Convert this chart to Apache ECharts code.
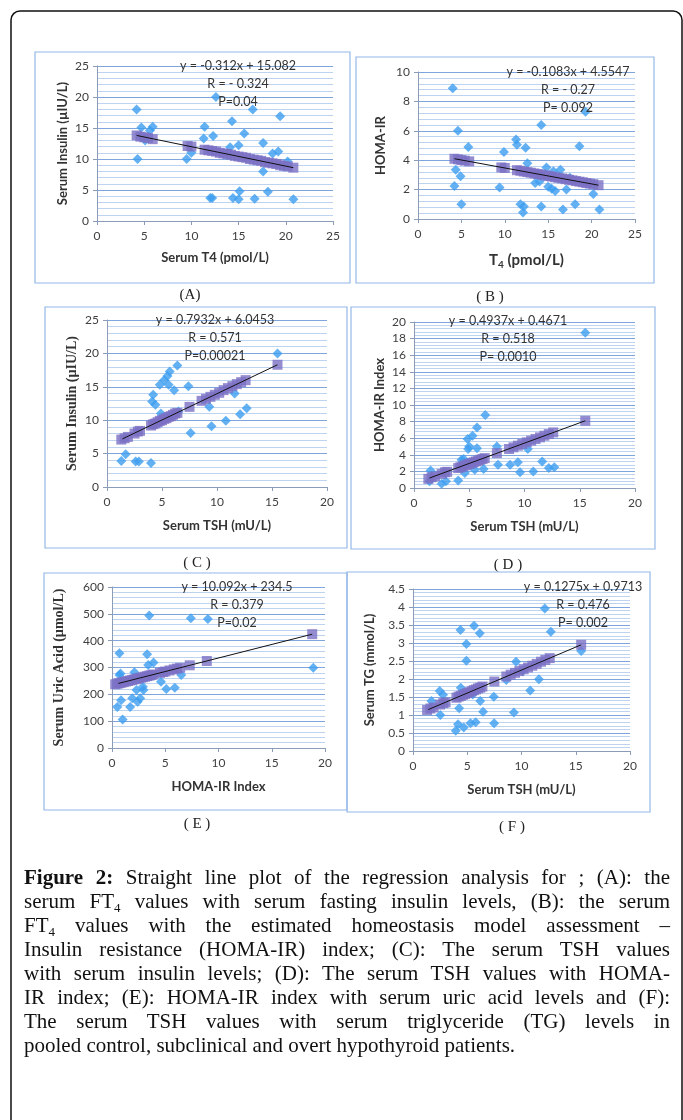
<!DOCTYPE html>
<html>
<head>
<meta charset="utf-8">
<script src="https://cdn.jsdelivr.net/npm/echarts@6/dist/echarts.min.js"></script>
<style>
  body { margin: 0; background: #fff; }
  #wrap { position: relative; width: 683px; height: 1120px; overflow: hidden; }
  #main { position: absolute; left: 0; top: 0; width: 683px; height: 1120px; }
  #caption {
    position: absolute; left: 24px; top: 865px; width: 646px;
    font-family: "Liberation Serif", serif; font-size: 21px; line-height: 24px; color: #111;
  }
  #caption div { text-align: justify; text-align-last: justify; height: 24px; }
  #caption div.last { text-align-last: left; }
  #caption sub { font-size: 13px; line-height: 0; vertical-align: -4px; }
</style>
</head>
<body>
<div id="wrap">
  <div id="main"></div>
  <div id="caption">
    <div><b>Figure 2:</b> Straight line plot of the regression analysis for ; (A): the</div>
    <div>serum FT<sub>4</sub> values with serum fasting insulin levels, (B): the serum</div>
    <div>FT<sub>4</sub> values with the estimated homeostasis model assessment –</div>
    <div>Insulin resistance (HOMA-IR) index; (C): The serum TSH values</div>
    <div>with serum insulin levels; (D): The serum TSH values with HOMA-</div>
    <div>IR index; (E): HOMA-IR index with serum uric acid levels and (F):</div>
    <div>The serum TSH values with serum triglyceride (TG) levels in</div>
    <div class="last">pooled control, subclinical and overt hypothyroid patients.</div>
  </div>
</div>
<script>
// ---- (A) serum T4 vs insulin
const t4InsulinPoints = [[4.2,18],[4.3,10],[4.7,15.1],[5.1,13],[5.6,14.6],[5.9,15.2],[9.5,10],[10,11],
  [11.3,13.3],[11.4,15.2],[12,3.7],[12.2,3.7],[12.3,13.7],[12.6,20],[14.1,11.9],[14.3,16.1],[14.4,3.7],
  [15,12.2],[15,3.5],[15.1,4.8],[15.6,14.1],[16.5,18],[16.7,3.6],[17.6,12.6],[17.6,8],[18.1,4.7],
  [18.6,10.9],[19.2,11.2],[19.4,16.9],[20.2,9.6],[20.8,3.5]];
const t4FitX = [4.2,4.6,5,5.4,5.9,9.6,10,11.4,11.8,12.2,12.6,13,13.4,13.8,14.2,14.6,15,15.4,15.8,
  16.2,16.6,17,17.4,17.8,18.2,18.6,19,19.4,19.8,20.2,20.8];
const insulinFitA = [13.8,13.6,13.5,13.4,13.2,12.1,12.0,11.5,11.4,11.3,11.2,11.0,10.9,10.8,10.7,10.5,
  10.4,10.3,10.2,10.0,9.9,9.8,9.7,9.5,9.4,9.3,9.2,9.0,8.9,8.8,8.6];
const lineA = [[4.2,13.8],[20.8,8.6]];

// ---- (B) T4 vs HOMA-IR
const t4HomaPoints = [[4.0,8.9],[4.6,6.0],[4.35,3.35],[4.2,2.25],[4.9,2.9],[5.0,1.0],[5.8,4.9],
  [9.4,2.15],[9.9,4.55],[11.3,5.4],[11.4,5.05],[11.8,1.0],[12.1,0.45],[12.2,0.85],[12.4,4.85],[12.6,3.8],
  [13.5,2.45],[14,2.55],[14.2,6.4],[14.2,0.85],[14.8,3.5],[15,2.2],[15.4,2.05],[15.8,1.9],[15.6,3.25],
  [16.4,3.35],[16.7,0.65],[17.1,2.0],[17.5,2.8],[18.1,1.0],[18.6,4.95],[19.3,7.3],[20.2,1.7],[20.9,0.65]];
const homaFitB = [4.1,4.06,4.01,3.97,3.92,3.51,3.47,3.32,3.28,3.23,3.19,3.15,3.1,3.06,3.02,2.97,2.93,
  2.89,2.84,2.8,2.76,2.71,2.67,2.63,2.58,2.54,2.5,2.45,2.41,2.37,2.3];
const lineB = [[4.2,4.1],[20.8,2.3]];

// ---- (C) TSH vs insulin
const tshInsulinPoints = [[1.3,3.9],[1.7,4.9],[2.6,3.8],[2.9,3.8],[4.0,3.6],[4.1,12.8],[4.2,13.8],
  [4.4,12.3],[4.8,15.3],[4.9,11],[5.2,16],[5.5,16.6],[5.7,17.3],[5.6,15.3],[6.1,14.5],[6.4,18.2],
  [6.5,11.3],[7.4,15.1],[7.6,8.1],[9.3,12],[9.5,9.1],[10.8,9.9],[11.6,14],[12.1,10.9],[12.7,11.8],[15.5,20]];
const tshFitX = [1.3,1.6,1.9,2.5,2.8,3.0,4,4.2,4.4,4.6,4.8,5,5.2,5.4,5.6,5.8,6,6.2,6.4,7.5,8.6,9,9.4,
  9.8,10.2,10.6,11,11.4,11.8,12.2,12.6,15.5];
const insulinFitC = [7.1,7.3,7.5,8.0,8.3,8.4,9.2,9.4,9.5,9.7,9.9,10.0,10.2,10.3,10.5,10.6,10.8,11.0,
  11.1,12.0,12.9,13.2,13.5,13.8,14.1,14.5,14.8,15.1,15.4,15.7,16.0,18.3];
const lineC = [[1.4,7.2],[15.5,18.3]];

// ---- (D) TSH vs HOMA-IR
const tshHomaPoints = [[1.5,2.1],[1.4,0.8],[2.5,0.5],[2.9,0.8],[4.0,0.9],[4.3,3.4],[4.5,3.5],[4.6,1.8],
  [4.85,5.9],[4.9,4.7],[5.0,5.0],[5.3,6.3],[5.5,2.2],[5.7,4.8],[5.7,7.3],[6.3,2.3],[6.45,8.8],[7.6,2.8],
  [7.5,5.0],[8.7,2.8],[9.4,3.1],[9.6,1.9],[10.3,4.7],[10.8,2.0],[11.6,3.2],[12.2,2.4],[12.7,2.5],[15.5,18.7]];
const homaFitD = [1.1,1.3,1.4,1.7,1.9,1.95,2.4,2.5,2.6,2.7,2.8,2.9,3.0,3.1,3.2,3.3,3.4,3.5,3.6,4.2,
  4.7,4.9,5.1,5.3,5.5,5.7,5.9,6.1,6.3,6.5,6.7,8.1];
const lineD = [[1.4,1.2],[15.5,8.1]];

// ---- (E) HOMA-IR vs uric acid
const homaUricPoints = [[0.5,153],[0.7,353],[0.7,272],[0.8,278],[0.85,178],[1.0,106],[1.7,153],[1.9,185],
  [2.1,282],[2.3,216],[2.4,172],[2.65,185],[2.95,216],[2.9,228],[3.3,349],[3.4,309],[3.5,494],[3.9,319],
  [4.6,247],[5.1,220],[5.9,225],[6.5,272],[7.4,484],[9.0,481],[18.9,299]];
const homaFitX = [0.3,0.5,0.7,0.9,1.1,1.3,1.5,1.7,1.9,2.1,2.3,2.5,2.7,2.9,3.1,3.3,3.5,3.7,3.9,4.5,4.8,
  5,5.4,5.8,6.1,6.4,7.3,8.9,18.8];
const uricFitE = [237.5,239.5,241.6,243.6,245.6,247.6,249.6,251.7,253.7,255.7,257.7,259.7,261.7,263.8,
  265.8,267.8,269.8,271.8,273.9,279.9,283,285,289,293,296,299,308.2,324.3,424.2];
const lineE = [[0.6,240.6],[18.8,424.2]];

// ---- (F) TSH vs TG
const tshTgPoints = [[1.7,1.39],[2.46,1.67],[2.77,1.56],[2.52,1.0],[3.94,0.56],[4.15,0.74],[4.25,1.19],
  [4.37,3.36],[4.4,1.76],[4.68,0.65],[4.92,2.97],[4.92,2.51],[5.3,0.77],[5.5,1.57],[5.63,3.48],[5.78,0.8],
  [6.15,3.27],[6.2,1.39],[6.46,1.09],[7.45,1.51],[7.48,0.77],[8.6,1.97],[9.3,1.07],[9.5,2.48],[10.1,2.22],
  [10.8,1.68],[11.6,1.99],[12.15,3.96],[12.7,3.31],[15.5,2.78]];
const tgFitF = [1.14,1.18,1.21,1.29,1.33,1.35,1.48,1.51,1.53,1.56,1.58,1.61,1.63,1.66,1.69,1.71,1.74,
  1.76,1.79,1.93,2.07,2.12,2.17,2.22,2.27,2.32,2.37,2.42,2.48,2.53,2.58,2.95];
const lineF = [[1.4,1.15],[15.5,2.95]];

const equations = [
  ['y = -0.312x + 15.082', 'R = - 0.324', 'P=0.04'],
  ['y = -0.1083x + 4.5547', 'R = - 0.27', 'P= 0.092'],
  ['y = 0.7932x + 6.0453', 'R = 0.571', 'P=0.00021'],
  ['y = 0.4937x + 0.4671', 'R = 0.518', 'P= 0.0010'],
  ['y = 10.092x + 234.5', 'R = 0.379', 'P=0.02'],
  ['y = 0.1275x + 0.9713', 'R = 0.476', 'P= 0.002']
];
const panelLabels = ['(A)', '( B )', '( C )', '( D )', '( E )', '( F )'];

const zip = (xs, ys) => xs.map((x, i) => [x, ys[i]]);

const sans = 'Lato';
const serif = 'Liberation Serif';
const titleSans = { fontFamily: sans, fontWeight: 'bold', fontSize: 13, color: '#333' };
const titleSerif = { fontFamily: serif, fontWeight: 'bold', fontSize: 14, color: '#333' };

const panels = [
  { grid: [97, 66, 236, 155], x: [0, 25, 5], y: [0, 25, 5], minor: 5,
    xName: 'Serum T4 (pmol/L)', yName: 'Serum Insulin (µIU/L)', yStyle: titleSans, xGap: 30, yGap: 28,
    pts: t4InsulinPoints, fit: zip(t4FitX, insulinFitA), line: lineA,
    eq: [238, 66], box: [35, 52, 315, 231], cap: [190, 295] },
  { grid: [418, 72, 217, 147], x: [0, 25, 5], y: [0, 10, 2], minor: 5,
    xName: '{a|T}{b|4}{a| (pmol/L)}', yName: 'HOMA-IR', yStyle: titleSans, xGap: 32, yGap: 31,
    pts: t4HomaPoints, fit: zip(t4FitX, homaFitB), line: lineB,
    eq: [568, 72], box: [356, 57, 298, 226], cap: [490, 297] },
  { grid: [107, 320, 220, 167], x: [0, 20, 5], y: [0, 25, 5], minor: 5,
    xName: 'Serum TSH (mU/L)', yName: 'Serum Insulin (µIU/L)', yStyle: titleSerif, xGap: 32, yGap: 28,
    pts: tshInsulinPoints, fit: zip(tshFitX, insulinFitC), line: lineC,
    eq: [215, 320], box: [45, 307, 302, 241], cap: [197, 563] },
  { grid: [414, 322, 221, 166], x: [0, 20, 5], y: [0, 20, 2], minor: 5,
    xName: 'Serum TSH (mU/L)', yName: 'HOMA-IR Index', yStyle: titleSans, xGap: 32, yGap: 28,
    pts: tshHomaPoints, fit: zip(tshFitX, homaFitD), line: lineD,
    eq: [508, 321], box: [351, 307, 304, 242], cap: [508, 565] },
  { grid: [112, 587, 213, 161], x: [0, 20, 5], y: [0, 600, 100], minor: 5,
    xName: 'HOMA-IR Index', yName: 'Serum Uric Acid (µmol/L)', yStyle: titleSerif, xGap: 32, yGap: 46,
    pts: homaUricPoints, fit: zip(homaFitX, uricFitE), line: lineE,
    eq: [237, 587], box: [44, 573, 303, 237], cap: [197, 824] },
  { grid: [413, 589, 217, 162], x: [0, 20, 5], y: [0, 4.5, 0.5], minor: 5,
    xName: 'Serum TSH (mU/L)', yName: 'Serum TG (mmol/L)', yStyle: titleSans, xGap: 32, yGap: 37,
    pts: tshTgPoints, fit: zip(tshFitX, tgFitF), line: lineF,
    eq: [583, 587], box: [347, 572, 303, 240], cap: [512, 827] }
];

const axisLineStyle = { color: '#8a9cb8', width: 1 };
const tickLabel = { fontFamily: sans, fontSize: 12, color: '#404040' };

const grid = [], xAxis = [], yAxis = [], series = [], graphic = [];

// outer frame
graphic.push({ type: 'rect', shape: { x: 11, y: 11, width: 671, height: 1140, r: 9 },
  style: { fill: 'none', stroke: '#111', lineWidth: 1.5 }, z: 0 });

panels.forEach((p, i) => {
  grid.push({ left: p.grid[0], top: p.grid[1], width: p.grid[2], height: p.grid[3], containLabel: false });
  xAxis.push({
    type: 'value', gridIndex: i, min: p.x[0], max: p.x[1], interval: p.x[2],
    axisLine: { show: true, onZero: false, lineStyle: axisLineStyle },
    axisTick: { show: true, length: 4, lineStyle: axisLineStyle },
    axisLabel: Object.assign({ margin: 9 }, tickLabel),
    splitLine: { show: false },
    name: p.xName, nameLocation: 'middle', nameGap: p.xGap,
    nameTextStyle: i === 1 ? {
      rich: {
        a: { fontFamily: sans, fontWeight: 'bold', fontSize: 15, color: '#333' },
        b: { fontFamily: sans, fontWeight: 'bold', fontSize: 10, color: '#333', padding: [9, 0, 0, 0] }
      }
    } : titleSans
  });
  yAxis.push({
    type: 'value', gridIndex: i, min: p.y[0], max: p.y[1], interval: p.y[2],
    axisLine: { show: true, lineStyle: axisLineStyle },
    axisTick: { show: true, length: 4, lineStyle: axisLineStyle },
    axisLabel: Object.assign({ margin: 8 }, tickLabel),
    splitLine: { show: true, lineStyle: { color: '#7ea6dd', width: 1 } },
    minorTick: { show: false, splitNumber: p.minor },
    minorSplitLine: { show: true, lineStyle: { color: '#bdd3f0', width: 1 } },
    name: p.yName, nameLocation: 'middle', nameGap: p.yGap, nameTextStyle: p.yStyle
  });
  series.push({
    type: 'scatter', xAxisIndex: i, yAxisIndex: i, data: p.pts,
    symbol: 'diamond', symbolSize: 10, itemStyle: { color: '#3c9ef0' }, z: 2
  });
  series.push({
    type: 'scatter', xAxisIndex: i, yAxisIndex: i, data: p.fit,
    symbol: 'rect', symbolSize: 10, itemStyle: { color: '#7a70c4' }, z: 3
  });
  series.push({
    type: 'line', xAxisIndex: i, yAxisIndex: i, data: p.line,
    symbol: 'none', lineStyle: { color: '#111', width: 1 }, z: 4
  });

  graphic.push({ type: 'rect', shape: { x: p.box[0], y: p.box[1], width: p.box[2], height: p.box[3] },
    style: { fill: 'none', stroke: '#94b8e6', lineWidth: 1.2 }, z: 1 });
  graphic.push({ type: 'text', x: p.cap[0], y: p.cap[1],
    style: { text: panelLabels[i], fontFamily: serif, fontSize: 15, fill: '#222', align: 'center', verticalAlign: 'middle' } });
  equations[i].forEach((t, k) => {
    graphic.push({ type: 'text', x: p.eq[0], y: p.eq[1] + k * 18, z: 10,
      style: { text: t, fontFamily: sans, fontSize: 12.5, fill: '#333', align: 'center', verticalAlign: 'middle' } });
  });
});

const chart = echarts.init(document.getElementById('main'));
chart.setOption({
  animation: false,
  backgroundColor: '#fff',
  grid: grid,
  xAxis: xAxis,
  yAxis: yAxis,
  series: series,
  graphic: graphic
});
</script>
</body>
</html>
